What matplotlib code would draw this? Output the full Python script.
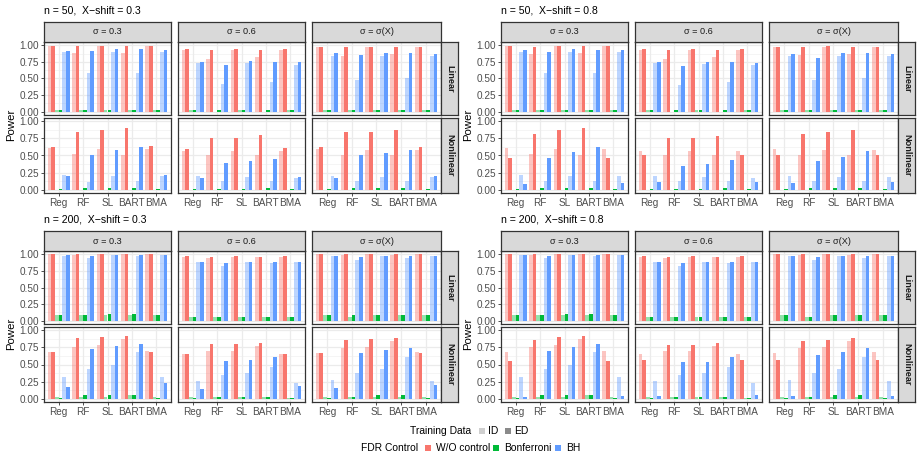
import matplotlib
matplotlib.use('Agg')
import matplotlib.pyplot as plt
from matplotlib.patches import Rectangle
from matplotlib.colors import to_rgba

FONT = ['Liberation Sans', 'DejaVu Sans']
plt.rcParams['font.family'] = FONT

# ---------------- data ----------------
methods = ['Reg', 'RF', 'SL', 'BART', 'BMA']
sigma_labels = ['σ = 0.3', 'σ = 0.6', 'σ = σ(X)']
model_labels = ['Linear', 'Nonlinear']
panel_titles = ['n = 50,  X\u2212shift = 0.3', 'n = 50,  X\u2212shift = 0.8',
                'n = 200,  X\u2212shift = 0.3', 'n = 200,  X\u2212shift = 0.8']
training_data = ['ID', 'ED']
fdr_controls = ['W/O control', 'Bonferroni', 'BH']
y_ticks = [0.0, 0.25, 0.5, 0.75, 1.0]
y_tick_labels = ['0.00', '0.25', '0.50', '0.75', '1.00']

# each row: method; columns: [W/O-ID, W/O-ED, Bonf-ID, Bonf-ED, BH-ID, BH-ED]
# ---- n = 50, X-shift = 0.3
n50_s03_lin_sig03 = [[0.99, 0.99, 0.02, 0.02, 0.90, 0.92], [0.88, 0.99, 0.02, 0.02, 0.58, 0.92],
                     [0.99, 0.99, 0.02, 0.02, 0.90, 0.94], [0.89, 0.99, 0.02, 0.02, 0.58, 0.94],
                     [0.99, 0.99, 0.02, 0.02, 0.90, 0.93]]
n50_s03_lin_sig06 = [[0.93, 0.95, 0.02, 0.02, 0.73, 0.75], [0.80, 0.93, 0.00, 0.02, 0.41, 0.71],
                     [0.93, 0.95, 0.02, 0.02, 0.73, 0.77], [0.83, 0.93, 0.00, 0.02, 0.44, 0.75],
                     [0.93, 0.95, 0.02, 0.02, 0.71, 0.75]]
n50_s03_lin_sigX = [[0.98, 0.98, 0.02, 0.02, 0.84, 0.88], [0.84, 0.98, 0.02, 0.02, 0.47, 0.86],
                    [0.98, 0.98, 0.02, 0.02, 0.84, 0.88], [0.87, 0.98, 0.02, 0.02, 0.50, 0.88],
                    [0.98, 0.98, 0.02, 0.02, 0.84, 0.87]]
n50_s03_non_sig03 = [[0.61, 0.63, 0.0, 0.005, 0.21, 0.20], [0.52, 0.85, 0.0, 0.02, 0.11, 0.51],
                     [0.60, 0.88, 0.0, 0.02, 0.20, 0.58], [0.51, 0.90, 0.0, 0.02, 0.12, 0.63],
                     [0.60, 0.64, 0.0, 0.005, 0.20, 0.21]]
n50_s03_non_sig06 = [[0.57, 0.60, 0.0, 0.005, 0.20, 0.17], [0.51, 0.76, 0.0, 0.005, 0.12, 0.39],
                     [0.57, 0.76, 0.0, 0.005, 0.18, 0.42], [0.51, 0.80, 0.0, 0.02, 0.12, 0.45],
                     [0.57, 0.61, 0.0, 0.005, 0.17, 0.18]]
n50_s03_non_sigX = [[0.60, 0.63, 0.0, 0.005, 0.20, 0.17], [0.51, 0.84, 0.0, 0.02, 0.12, 0.50],
                    [0.58, 0.85, 0.0, 0.02, 0.18, 0.54], [0.51, 0.87, 0.0, 0.02, 0.12, 0.58],
                    [0.58, 0.63, 0.0, 0.005, 0.18, 0.20]]
# ---- n = 50, X-shift = 0.8
n50_s08_lin_sig03 = [[0.99, 0.99, 0.02, 0.02, 0.90, 0.93], [0.87, 0.97, 0.02, 0.02, 0.58, 0.90],
                     [0.99, 0.99, 0.02, 0.02, 0.90, 0.94], [0.89, 0.99, 0.02, 0.02, 0.58, 0.93],
                     [0.99, 0.99, 0.02, 0.02, 0.90, 0.93]]
n50_s08_lin_sig06 = [[0.93, 0.95, 0.02, 0.02, 0.73, 0.75], [0.80, 0.93, 0.00, 0.02, 0.40, 0.69],
                     [0.93, 0.95, 0.02, 0.02, 0.72, 0.75], [0.83, 0.93, 0.00, 0.02, 0.44, 0.75],
                     [0.93, 0.95, 0.02, 0.02, 0.71, 0.74]]
n50_s08_lin_sigX = [[0.98, 0.98, 0.02, 0.02, 0.84, 0.87], [0.86, 0.98, 0.02, 0.02, 0.47, 0.81],
                    [0.98, 0.99, 0.02, 0.02, 0.84, 0.88], [0.87, 0.98, 0.02, 0.02, 0.50, 0.88],
                    [0.98, 0.98, 0.02, 0.02, 0.84, 0.87]]
n50_s08_non_sig03 = [[0.61, 0.47, 0.0, 0.005, 0.21, 0.08], [0.52, 0.82, 0.0, 0.02, 0.12, 0.47],
                     [0.60, 0.87, 0.0, 0.02, 0.20, 0.55], [0.51, 0.90, 0.0, 0.02, 0.12, 0.63],
                     [0.60, 0.47, 0.0, 0.005, 0.20, 0.09]]
n50_s08_non_sig06 = [[0.57, 0.50, 0.0, 0.005, 0.20, 0.11], [0.51, 0.75, 0.0, 0.005, 0.12, 0.35],
                     [0.57, 0.75, 0.0, 0.005, 0.18, 0.38], [0.51, 0.79, 0.0, 0.02, 0.12, 0.44],
                     [0.57, 0.50, 0.0, 0.005, 0.17, 0.11]]
n50_s08_non_sigX = [[0.60, 0.50, 0.0, 0.005, 0.20, 0.09], [0.51, 0.81, 0.0, 0.02, 0.12, 0.42],
                    [0.58, 0.84, 0.0, 0.02, 0.18, 0.48], [0.51, 0.87, 0.0, 0.02, 0.12, 0.57],
                    [0.58, 0.50, 0.0, 0.005, 0.18, 0.11]]
# ---- n = 200, X-shift = 0.3
n200_s03_lin_sig03 = [[1.00, 1.00, 0.08, 0.08, 0.97, 0.99], [0.99, 1.00, 0.08, 0.08, 0.94, 0.97],
                      [1.00, 1.00, 0.08, 0.10, 0.99, 0.99], [1.00, 1.00, 0.08, 0.10, 0.97, 0.99],
                      [1.00, 1.00, 0.08, 0.08, 0.99, 0.99]]
n200_s03_lin_sig06 = [[0.96, 0.97, 0.06, 0.06, 0.88, 0.88], [0.94, 0.96, 0.05, 0.06, 0.82, 0.87],
                      [0.96, 0.97, 0.06, 0.06, 0.88, 0.88], [0.96, 0.96, 0.06, 0.06, 0.87, 0.88],
                      [0.96, 0.97, 0.06, 0.06, 0.88, 0.88]]
n200_s03_lin_sigX = [[1.00, 1.00, 0.08, 0.08, 0.97, 0.97], [0.99, 1.00, 0.06, 0.08, 0.91, 0.96],
                     [1.00, 1.00, 0.08, 0.08, 0.97, 0.97], [0.99, 1.00, 0.08, 0.08, 0.94, 0.97],
                     [1.00, 1.00, 0.08, 0.08, 0.97, 0.97]]
n200_s03_non_sig03 = [[0.68, 0.68, 0.02, 0.01, 0.32, 0.17], [0.76, 0.89, 0.03, 0.05, 0.43, 0.73],
                      [0.79, 0.91, 0.03, 0.06, 0.50, 0.77], [0.88, 0.92, 0.05, 0.06, 0.68, 0.80],
                      [0.70, 0.68, 0.02, 0.01, 0.31, 0.23]]
n200_s03_non_sig06 = [[0.65, 0.65, 0.02, 0.01, 0.26, 0.14], [0.70, 0.80, 0.02, 0.03, 0.34, 0.55],
                      [0.70, 0.80, 0.02, 0.03, 0.37, 0.56], [0.77, 0.81, 0.03, 0.03, 0.47, 0.61],
                      [0.65, 0.65, 0.005, 0.01, 0.23, 0.19]]
n200_s03_non_sigX = [[0.67, 0.67, 0.02, 0.01, 0.28, 0.16], [0.74, 0.86, 0.02, 0.03, 0.38, 0.67],
                     [0.76, 0.88, 0.02, 0.05, 0.44, 0.71], [0.85, 0.89, 0.03, 0.05, 0.61, 0.74],
                     [0.68, 0.67, 0.02, 0.01, 0.26, 0.20]]
# ---- n = 200, X-shift = 0.8
n200_s08_lin_sig03 = [[1.00, 1.00, 0.08, 0.08, 0.99, 0.99], [0.99, 1.00, 0.08, 0.08, 0.94, 0.97],
                      [1.00, 1.00, 0.08, 0.10, 0.99, 0.99], [1.00, 1.00, 0.08, 0.10, 0.97, 0.99],
                      [1.00, 1.00, 0.08, 0.08, 0.99, 0.99]]
n200_s08_lin_sig06 = [[0.96, 0.97, 0.06, 0.06, 0.88, 0.88], [0.94, 0.96, 0.05, 0.05, 0.82, 0.87],
                      [0.96, 0.97, 0.06, 0.06, 0.88, 0.88], [0.96, 0.96, 0.06, 0.06, 0.87, 0.88],
                      [0.96, 0.97, 0.06, 0.06, 0.88, 0.88]]
n200_s08_lin_sigX = [[1.00, 1.00, 0.08, 0.08, 0.97, 0.97], [0.99, 1.00, 0.06, 0.06, 0.91, 0.96],
                     [1.00, 1.00, 0.08, 0.08, 0.97, 0.97], [0.99, 1.00, 0.08, 0.08, 0.94, 0.97],
                     [1.00, 1.00, 0.08, 0.08, 0.97, 0.97]]
n200_s08_non_sig03 = [[0.68, 0.55, 0.02, 0.01, 0.32, 0.02], [0.76, 0.86, 0.03, 0.05, 0.43, 0.70],
                      [0.79, 0.91, 0.03, 0.05, 0.50, 0.76], [0.88, 0.92, 0.05, 0.06, 0.68, 0.80],
                      [0.70, 0.55, 0.02, 0.01, 0.31, 0.04]]
n200_s08_non_sig06 = [[0.65, 0.56, 0.02, 0.01, 0.26, 0.04], [0.70, 0.79, 0.02, 0.03, 0.34, 0.53],
                      [0.70, 0.79, 0.02, 0.03, 0.37, 0.53], [0.77, 0.81, 0.03, 0.03, 0.47, 0.61],
                      [0.65, 0.56, 0.005, 0.01, 0.23, 0.05]]
n200_s08_non_sigX = [[0.67, 0.56, 0.02, 0.01, 0.28, 0.04], [0.74, 0.85, 0.02, 0.03, 0.38, 0.64],
                     [0.76, 0.86, 0.02, 0.05, 0.44, 0.68], [0.85, 0.89, 0.03, 0.05, 0.61, 0.74],
                     [0.68, 0.56, 0.02, 0.01, 0.26, 0.04]]

panels = [
    [[n50_s03_lin_sig03, n50_s03_lin_sig06, n50_s03_lin_sigX],
     [n50_s03_non_sig03, n50_s03_non_sig06, n50_s03_non_sigX]],
    [[n50_s08_lin_sig03, n50_s08_lin_sig06, n50_s08_lin_sigX],
     [n50_s08_non_sig03, n50_s08_non_sig06, n50_s08_non_sigX]],
    [[n200_s03_lin_sig03, n200_s03_lin_sig06, n200_s03_lin_sigX],
     [n200_s03_non_sig03, n200_s03_non_sig06, n200_s03_non_sigX]],
    [[n200_s08_lin_sig03, n200_s08_lin_sig06, n200_s08_lin_sigX],
     [n200_s08_non_sig03, n200_s08_non_sig06, n200_s08_non_sigX]],
]

# ---------------- style ----------------
fdr_colors = ['#F8766D', '#00BA38', '#619CFF']
id_alpha = 0.42
W, H = 920, 459
fig = plt.figure(figsize=(W / 100, H / 100), dpi=100)

def px_axes(x0, y0, x1, y1, **kw):
    return fig.add_axes([x0 / W, 1 - y1 / H, (x1 - x0) / W, (y1 - y0) / H], **kw)

origins = [(0, 0), (457, 0), (0, 209), (457, 209)]
col_x = [(44, 171), (178, 305), (312, 441)]
strip_r = (441, 458)
strip_top = (22, 42)
rows_y = [(42, 115), (118, 193)]

border_col = '#333333'
tick_col = '#4D4D4D'
bar_w = 0.15
offsets = [-0.375, -0.225, -0.075, 0.075, 0.225, 0.375]


def draw_facet(ax, vals, show_y, show_x):
    ax.set_xlim(0.4, 5.6)
    ax.set_ylim(-0.05, 1.05)
    ax.set_facecolor('white')
    for yy in [0.125, 0.375, 0.625, 0.875]:
        ax.axhline(yy, color='#F2F2F2', lw=0.5, zorder=0)
    for yy in y_ticks:
        ax.axhline(yy, color='#EBEBEB', lw=0.9, zorder=0)
    xs = list(range(1, len(methods) + 1))
    for xx in xs:
        ax.axvline(xx, color='#EBEBEB', lw=0.9, zorder=0)
    for k in range(6):
        fc = fdr_colors[k // 2]
        alpha = id_alpha if k % 2 == 0 else 1.0
        heights = [vals[m][k] for m in range(len(methods))]
        ax.bar([x + offsets[k] for x in xs], heights, width=bar_w,
               color=to_rgba(fc, alpha), linewidth=0, zorder=2)
    for s in ax.spines.values():
        s.set_color(border_col)
        s.set_linewidth(0.9)
    ax.set_xticks(xs)
    ax.set_yticks(y_ticks)
    ax.tick_params(length=2.2, width=0.6, color=border_col, labelcolor=tick_col,
                   labelsize=7.2, pad=1.2)
    if show_y:
        ax.set_yticklabels(y_tick_labels)
    else:
        ax.tick_params(axis='y', length=0, labelleft=False)
    if show_x:
        ax.set_xticklabels(methods)
    else:
        ax.tick_params(axis='x', length=0, labelbottom=False)


for p, (ox, oy) in enumerate(origins):
    for r in range(2):
        for c in range(3):
            x0, x1 = col_x[c]
            y0, y1 = rows_y[r]
            ax = px_axes(ox + x0, oy + y0, ox + x1, oy + y1)
            draw_facet(ax, panels[p][r][c], show_y=(c == 0), show_x=(r == 1))
    # top strips
    for c in range(3):
        x0, x1 = col_x[c]
        sa = px_axes(ox + x0, oy + strip_top[0], ox + x1, oy + strip_top[1])
        sa.set_facecolor('#D9D9D9')
        sa.set_xticks([]); sa.set_yticks([])
        for s in sa.spines.values():
            s.set_color(border_col); s.set_linewidth(0.9)
        sa.text(0.5, 0.5, sigma_labels[c], ha='center', va='center',
                fontsize=6.6, color='#1A1A1A', transform=sa.transAxes)
    # right strips
    for r in range(2):
        y0, y1 = rows_y[r]
        sa = px_axes(ox + strip_r[0], oy + y0, ox + strip_r[1], oy + y1)
        sa.set_facecolor('#D9D9D9')
        sa.set_xticks([]); sa.set_yticks([])
        for s in sa.spines.values():
            s.set_color(border_col); s.set_linewidth(0.9)
        sa.text(0.5, 0.5, model_labels[r], ha='center', va='center', rotation=-90,
                fontsize=6.6, color='#1A1A1A', fontweight='bold', transform=sa.transAxes)

# overlay for titles, axis labels and legend (pixel coordinates)
ov = fig.add_axes([0, 0, 1, 1], facecolor='none')
ov.set_xlim(0, W)
ov.set_ylim(H, 0)
ov.axis('off')
for p, (ox, oy) in enumerate(origins):
    ov.text(ox + 44, oy + 10.5, panel_titles[p], ha='left', va='center', fontsize=7.6, color='black')
    ov.text(ox + 11.5, oy + 125, 'Power', ha='center', va='center', rotation=90,
            fontsize=8.2, color='black')

# legend row 1: Training Data
ly1, ly2 = 430.5, 448
ov.text(410, ly1, 'Training Data', ha='left', va='center', fontsize=7.4, color='black')
ov.add_patch(Rectangle((479, ly1 - 3), 6, 6, facecolor='#CFCFCF', edgecolor='none'))
ov.text(488, ly1, training_data[0], ha='left', va='center', fontsize=7.4)
ov.add_patch(Rectangle((505, ly1 - 3), 6, 6, facecolor='#8A8A8A', edgecolor='none'))
ov.text(514, ly1, training_data[1], ha='left', va='center', fontsize=7.4)
# legend row 2: FDR Control
ov.text(361, ly2, 'FDR Control', ha='left', va='center', fontsize=7.4, color='black')
key_x = [425, 493, 555]
lab_x = [436, 504, 566]
for i in range(3):
    ov.add_patch(Rectangle((key_x[i], ly2 - 3), 6, 6, facecolor=fdr_colors[i], edgecolor='none'))
    ov.text(lab_x[i], ly2, fdr_controls[i], ha='left', va='center', fontsize=7.4)

fig.savefig('out.png', dpi=100, facecolor='white')
